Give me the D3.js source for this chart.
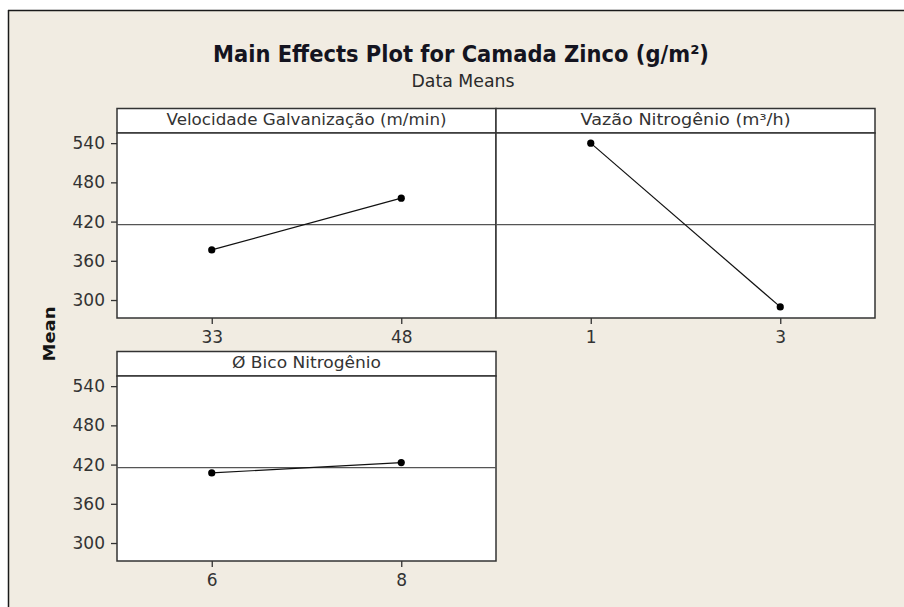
<!DOCTYPE html>
<html>
<head>
<meta charset="utf-8">
<script src="https://cdn.jsdelivr.net/npm/d3@7"></script>
<style>
  html, body { margin: 0; padding: 0; background: #ffffff; }
  svg { display: block; }
  text { font-family: "DejaVu Sans", Verdana, sans-serif; }
</style>
</head>
<body>
<svg id="chart" width="904" height="607"></svg>
<script>
// ---- data ----
const factorNames = ["Velocidade Galvanização (m/min)", "Vazão Nitrogênio (m³/h)", "Ø Bico Nitrogênio"];
const factorLevels = [["33", "48"], ["1", "3"], ["6", "8"]];
const meansVelocidade = [376.7, 455.8];
const meansVazao = [540.0, 289.5];
const meansBico = [407.3, 423.0];
const grandMean = 415.2;
const yTicks = [300, 360, 420, 480, 540];
const titleText = "Main Effects Plot for Camada Zinco (g/m²)";
const subtitleText = "Data Means";
const yLabelText = "Mean";

const seriesMeans = [meansVelocidade, meansVazao, meansBico];

// ---- layout ----
const svg = d3.select("#chart");
const W = 904, H = 607;

// outer background with border on top and left
svg.append("rect").attr("x", 0).attr("y", 0).attr("width", W).attr("height", H).attr("fill", "#ffffff");
svg.append("rect").attr("x", 8).attr("y", 10).attr("width", W - 8).attr("height", H - 10).attr("fill", "#f1ece2");
svg.append("line").attr("x1", 8).attr("x2", W).attr("y1", 10.5).attr("y2", 10.5).attr("stroke", "#1a1a1a").attr("stroke-width", 1.5);
svg.append("line").attr("x1", 8.5).attr("x2", 8.5).attr("y1", 10).attr("y2", H).attr("stroke", "#1a1a1a").attr("stroke-width", 1.5);

// title
svg.append("text").attr("x", 461).attr("y", 62).attr("text-anchor", "middle")
  .attr("font-size", 23).attr("font-weight", "bold").attr("fill", "#141420")
  .attr("textLength", 496).attr("lengthAdjust", "spacingAndGlyphs")
  .text(titleText);
svg.append("text").attr("x", 463).attr("y", 87).attr("text-anchor", "middle")
  .attr("font-size", 17).attr("fill", "#2a2a2a")
  .attr("textLength", 103).attr("lengthAdjust", "spacingAndGlyphs")
  .text(subtitleText);

// y label
svg.append("text")
  .attr("transform", "translate(55,334) rotate(-90)")
  .attr("text-anchor", "middle").attr("font-size", 16).attr("font-weight", "bold").attr("fill", "#141414")
  .attr("textLength", 55).attr("lengthAdjust", "spacingAndGlyphs")
  .text(yLabelText);

const panelW = 379;
const headerH = 24.5;
const plotH = 185;
const panels = [
  { x: 117, y: 108.5, headerLen: 280 },
  { x: 496, y: 108.5, headerLen: 210 },
  { x: 117, y: 351.5, headerLen: 149 }
];

const frameColor = "#333333";

panels.forEach((p, i) => {
  const g = svg.append("g").attr("transform", `translate(${p.x},${p.y})`);
  const plotTop = headerH;
  const plotBottom = headerH + plotH;

  const x = d3.scalePoint().domain(factorLevels[i]).range([0, panelW]).padding(0.5);
  const y = d3.scaleLinear().domain([272.5, 555.5]).range([plotBottom, plotTop]);

  // header
  g.append("rect").attr("x", 0).attr("y", 0).attr("width", panelW).attr("height", headerH)
    .attr("fill", "#ffffff").attr("stroke", frameColor).attr("stroke-width", 1.5);
  g.append("text").attr("x", panelW / 2).attr("y", headerH - 8.5).attr("text-anchor", "middle")
    .attr("font-size", 16).attr("fill", "#333333")
    .attr("textLength", p.headerLen).attr("lengthAdjust", "spacingAndGlyphs")
    .text(factorNames[i]);

  // plot area
  g.append("rect").attr("x", 0).attr("y", plotTop).attr("width", panelW).attr("height", plotH)
    .attr("fill", "#ffffff").attr("stroke", frameColor).attr("stroke-width", 1.5);

  // reference line
  g.append("line").attr("x1", 0).attr("x2", panelW).attr("y1", y(grandMean)).attr("y2", y(grandMean))
    .attr("stroke", "#555555").attr("stroke-width", 1.3);

  // y axis on left column only
  if (p.x === 117) {
    const ya = g.append("g").call(d3.axisLeft(y).tickValues(yTicks).tickSize(6).tickPadding(6));
    ya.select(".domain").remove();
    ya.selectAll(".tick line").attr("stroke", frameColor).attr("stroke-width", 1.3);
    ya.selectAll(".tick text").attr("font-size", 17).attr("fill", "#333333")
      .attr("font-family", "DejaVu Sans, sans-serif");
  }

  // x axis
  const xa = g.append("g").attr("transform", `translate(0,${plotBottom})`)
    .call(d3.axisBottom(x).tickSize(6).tickPadding(7));
  xa.select(".domain").remove();
  xa.selectAll(".tick line").attr("stroke", frameColor).attr("stroke-width", 1.3);
  xa.selectAll(".tick text").attr("font-size", 17).attr("fill", "#333333")
    .attr("font-family", "DejaVu Sans, sans-serif");

  // data
  const pts = factorLevels[i].map((lv, j) => ({ lv, v: seriesMeans[i][j] }));
  g.append("path").datum(pts)
    .attr("d", d3.line().x(d => x(d.lv)).y(d => y(d.v)))
    .attr("fill", "none").attr("stroke", "#111111").attr("stroke-width", 1.2);
  g.selectAll("circle.pt").data(pts).enter().append("circle")
    .attr("cx", d => x(d.lv)).attr("cy", d => y(d.v)).attr("r", 3.6).attr("fill", "#000000");
});
</script>
</body>
</html>
